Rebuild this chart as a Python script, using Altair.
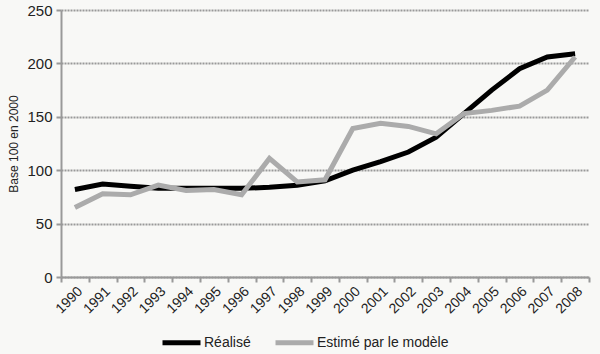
import altair as alt
import pandas as pd

years = [str(y) for y in range(1990, 2009)]
realise = [82, 87, 85, 83, 83, 83, 83, 84, 86, 90, 100, 108, 117, 131, 153, 175, 195, 206, 209]
estime = [65, 78, 77, 86, 81, 82, 77, 111, 89, 91, 139, 144, 141, 134, 153, 156, 160, 175, 206]
series_names = ["Réalisé", "Estimé par le modèle"]
series_colors = ["#000000", "#ababab"]

rows = []
for i, y in enumerate(years):
    rows.append({"year": y, "value": realise[i], "series": series_names[0]})
    rows.append({"year": y, "value": estime[i], "series": series_names[1]})
df = pd.DataFrame(rows)

FONT = "Liberation Sans"

chart = alt.Chart(df).mark_line(strokeWidth=5, strokeJoin="miter").encode(
    x=alt.X("year:N", bandPosition=0.5,
            scale=alt.Scale(type="band", paddingInner=0, paddingOuter=0),
            axis=alt.Axis(title=None, labelAngle=-45, tickBand="extent",
                          labelFont=FONT, labelFontSize=14, labelColor="#222222",
                          domainColor="#999999", domainWidth=2,
                          tickColor="#999999", tickWidth=2, tickSize=5,
                          labelPadding=2, grid=False)),
    y=alt.Y("value:Q",
            scale=alt.Scale(domain=[0, 250], nice=False),
            axis=alt.Axis(values=[0, 50, 100, 150, 200, 250], title="Base 100 en 2000",
                          titleFont=FONT, titleFontSize=12, titleFontWeight="normal",
                          titleColor="#222222", titlePadding=6,
                          labelFont=FONT, labelFontSize=15, labelColor="#222222",
                          domainColor="#999999", domainWidth=2,
                          tickColor="#999999", tickWidth=2, tickSize=5, labelPadding=4,
                          gridColor="#999999", gridWidth=2, gridDash=[2, 1])),
    color=alt.Color("series:N",
                    scale=alt.Scale(domain=series_names, range=series_colors),
                    sort=series_names,
                    legend=alt.Legend(title=None, orient="none", direction="horizontal",
                                      legendX=99, legendY=311,
                                      symbolType="stroke", symbolSize=1444,
                                      symbolStrokeWidth=5, columnPadding=14,
                                      labelFont=FONT, labelFontSize=14,
                                      labelColor="#222222", labelOffset=1)),
).properties(
    width=528, height=267,
    background="#f8f8f6",
    padding={"left": 61, "top": 10, "right": 11, "bottom": 77},
    autosize=alt.AutoSizeParams(type="none"),
).configure_view(stroke=None)

chart.save("out.html", embed_options={"renderer": "svg", "actions": False})
